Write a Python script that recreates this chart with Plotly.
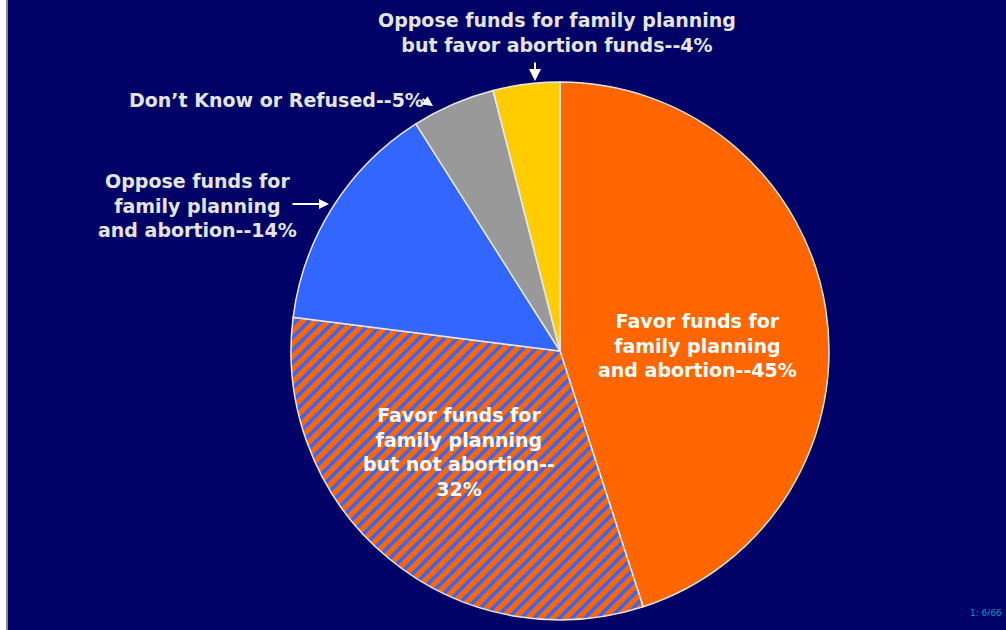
import plotly.graph_objects as go

W, H = 1006, 630

categories = [
    "Favor funds for family planning and abortion",
    "Favor funds for family planning but not abortion",
    "Oppose funds for family planning and abortion",
    "Don't Know or Refused",
    "Oppose funds for family planning but favor abortion funds",
]
values = [45, 32, 14, 5, 4]
colors = ["#ff6600", "#3366ff", "#3366ff", "#999999", "#ffcc00"]
patterns = ["", "/", "", "", ""]

FONT = "DejaVu Sans, Verdana, sans-serif"
outer_font = dict(family=FONT, size=19, color="#e4e4e4")
inner_font = dict(family=FONT, size=19, color="#ffffff")

fig = go.Figure()
fig.add_trace(go.Pie(
    labels=categories,
    values=values,
    sort=False,
    direction="clockwise",
    rotation=0,
    textinfo="none",
    hoverinfo="label+percent",
    marker=dict(
        colors=colors,
        line=dict(color="#e8e8e8", width=1.5),
        pattern=dict(shape=patterns, fgcolor="#ff6600", fgopacity=1, fillmode="overlay",
                     size=9, solidity=0.6),
    ),
    domain=dict(x=[290 / W, 830 / W], y=[10 / H, 548 / H]),
    showlegend=False,
))


def px(x, y):
    return x / W, 1 - y / H


annotations = []


def label(text, x, y, font, align="center"):
    ax_, ay_ = px(x, y)
    annotations.append(dict(text=text, x=ax_, y=ay_, xref="paper", yref="paper",
                            showarrow=False, font=font, align=align,
                            xanchor="center", yanchor="middle"))


def arrow(x, y, dx, dy, size=1.0):
    ax_, ay_ = px(x, y)
    annotations.append(dict(text="", x=ax_, y=ay_, xref="paper", yref="paper",
                            showarrow=True, ax=dx, ay=dy, arrowhead=2, arrowsize=size,
                            arrowwidth=2, arrowcolor="#ffffff"))


label("<b>Oppose funds for family planning<br>but favor abortion funds--4%</b>", 557, 32, outer_font)
label("<b>Don’t Know or Refused--5%</b>", 276, 100, outer_font)
label("<b>Oppose funds for<br>family planning<br>and abortion--14%</b>", 197, 206, outer_font)
label("<b>Favor funds for<br>family planning<br>and abortion--45%</b>", 697, 345, inner_font)
label("<b>Favor funds for<br>family planning<br>but not abortion--<br>32%</b>", 459, 452, inner_font)

arrow(535, 81, 0, -20, 1.2)
arrow(433, 106, -12, -8, 1.0)
arrow(329, 204, -38, 0, 1.0)

annotations.append(dict(text="1: 6/66", x=1004 / W, y=px(0, 613)[1], xref="paper", yref="paper",
                        showarrow=False, xanchor="right", yanchor="middle",
                        font=dict(family=FONT, size=9, color="#0099cc")))

fig.update_layout(
    width=W, height=H,
    margin=dict(l=0, r=0, t=0, b=0),
    paper_bgcolor="#000066",
    plot_bgcolor="#000066",
    annotations=annotations,
    shapes=[
        dict(type="rect", xref="paper", yref="paper", x0=0, x1=6 / W, y0=0, y1=1,
             fillcolor="#ffffff", line=dict(width=0)),
        dict(type="rect", xref="paper", yref="paper", x0=6 / W, x1=8 / W, y0=0, y1=1,
             fillcolor="#888888", line=dict(width=0)),
    ],
)

fig.write_html("out.html", config={"displayModeBar": False},
               post_script="document.body.style.margin='0';document.body.style.overflow='hidden';")
